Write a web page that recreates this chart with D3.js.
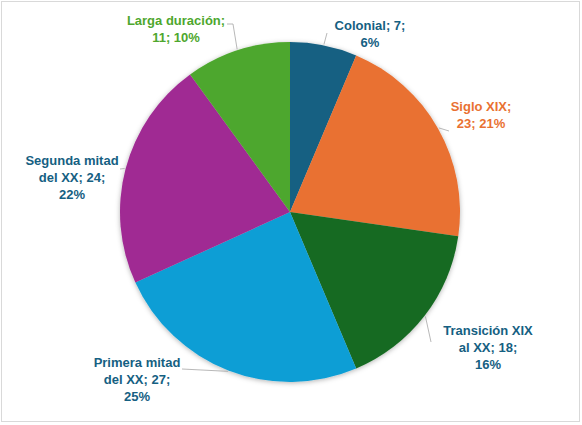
<!DOCTYPE html>
<html>
<head>
<meta charset="utf-8">
<script src="https://cdn.jsdelivr.net/npm/d3@7"></script>
<style>
  body { margin: 0; background: #fff; }
  text { font-family: "Liberation Sans", Arial, sans-serif; font-weight: bold; font-size: 13px; }
</style>
</head>
<body>
<div id="chart-container"></div>
<script>
// Data
const categories = ["Colonial", "Siglo XIX", "Transición XIX al XX", "Primera mitad del XX", "Segunda mitad del XX", "Larga duración"];
const values = [7, 23, 18, 27, 24, 11];
const sliceColors = ["#156082", "#e97132", "#196b24", "#0f9ed5", "#a02b93", "#4ea72e"];
const labelColors = ["#156082", "#e97132", "#156082", "#156082", "#156082", "#4ea72e"];

// Layout (label centre x / first line centre y, words per line, leader start points)
const labelPos = [[370, 25], [481, 106], [488, 330], [137, 362], [72, 160], [176, 20]];
const wordsPerLine = [[2, 1], [2, 2], [2, 3, 1], [2, 3, 1], [2, 3, 1], [2, 2]];
const leaderStart = [[[327, 33]], [[449, 131]], [[431, 342]], [[182, 369]], [[120, 169]], [[227, 24], [233, 24]]];

const width = 582, height = 425;
const cx = 290, cy = 212, radius = 170;
const lineHeight = 17;

const svg = d3.select("#chart-container")
    .append("svg")
    .attr("width", width)
    .attr("height", height);

// Chart border
svg.append("rect")
    .attr("x", 1.5).attr("y", 1.5)
    .attr("width", 578).attr("height", 420)
    .attr("fill", "#fff")
    .attr("stroke", "#d9d9d9")
    .attr("stroke-width", 1);

// Soft shadow under the pie
const filter = svg.append("defs").append("filter")
    .attr("id", "shadow")
    .attr("x", "-10%").attr("y", "-10%")
    .attr("width", "120%").attr("height", "120%");
filter.append("feDropShadow")
    .attr("dx", 0).attr("dy", 1)
    .attr("stdDeviation", 2.5)
    .attr("flood-color", "#000")
    .attr("flood-opacity", 0.3);

const total = d3.sum(values);
const data = categories.map((c, i) => ({ cat: c, value: values[i], i }));

const pie = d3.pie().sort(null).value(d => d.value);
const arcs = pie(data);

const arc = d3.arc().innerRadius(0).outerRadius(radius);
const edgeArc = d3.arc().innerRadius(radius + 1).outerRadius(radius + 1);

const g = svg.append("g").attr("transform", `translate(${cx},${cy})`);

g.append("g")
    .attr("filter", "url(#shadow)")
    .selectAll("path")
    .data(arcs)
    .join("path")
    .attr("d", arc)
    .attr("fill", d => sliceColors[d.data.i]);

// Leader lines
svg.append("g")
    .selectAll("path")
    .data(arcs)
    .join("path")
    .attr("fill", "none")
    .attr("stroke", "#a6a6a6")
    .attr("stroke-width", 0.8)
    .attr("d", d => {
        const [ex, ey] = edgeArc.centroid(d);
        const pts = leaderStart[d.data.i].concat([[ex + cx, ey + cy]]);
        return d3.line()(pts);
    });

// Labels: "category; value; percent%" broken into lines
const labels = svg.append("g");
arcs.forEach(d => {
    const i = d.data.i;
    const pct = Math.round(d.value / total * 100);
    const words = `${d.data.cat}; ${d.value}; ${pct}%`.split(" ");
    const t = labels.append("text")
        .attr("text-anchor", "middle")
        .attr("fill", labelColors[i]);
    let start = 0;
    wordsPerLine[i].forEach((n, k) => {
        t.append("tspan")
            .attr("x", labelPos[i][0])
            .attr("y", labelPos[i][1] + k * lineHeight)
            .attr("dy", "0.35em")
            .text(words.slice(start, start + n).join(" "));
        start += n;
    });
});
</script>
</body>
</html>
